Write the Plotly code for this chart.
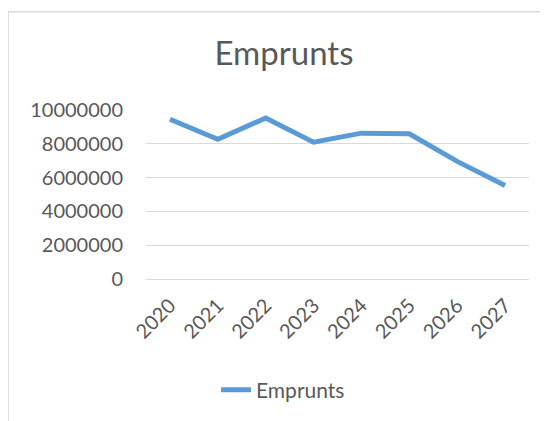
import plotly.graph_objects as go

# Data
years = ["2020", "2021", "2022", "2023", "2024", "2025", "2026", "2027"]
emprunts = [9450000, 8270000, 9530000, 8100000, 8630000, 8590000, 6960000, 5530000]
y_ticks = [0, 2000000, 4000000, 6000000, 8000000, 10000000]

LINE_COLOR = "#5b9bd5"
TEXT_COLOR = "#595959"
GRID_COLOR = "#d9d9d9"
FONT = "Lato, 'Open Sans', sans-serif"

# the page body adds an 8px offset, so the figure is 8px smaller each side
W, H = 540, 413

fig = go.Figure()

fig.add_trace(go.Scatter(
    x=years,
    y=emprunts,
    mode="lines",
    name="Emprunts",
    line=dict(color=LINE_COLOR, width=5),
))

# Chart-area border (outer frame, like the Excel chart box)
fig.add_shape(
    type="rect", xref="paper", yref="paper",
    x0=-0.3603, x1=1.07, y0=-0.9, y1=1.582,
    line=dict(color=GRID_COLOR, width=1.5),
    fillcolor="rgba(0,0,0,0)", layer="below",
)

fig.update_layout(
    width=W,
    height=H,
    margin=dict(l=138, r=19, t=102, b=141),
    paper_bgcolor="white",
    plot_bgcolor="white",
    font=dict(family=FONT, color=TEXT_COLOR, size=20),
    title=dict(
        text="Emprunts",
        x=276 / W, xanchor="center",
        y=1 - 45 / H, yanchor="middle",
        font=dict(size=33, color=TEXT_COLOR, family=FONT),
    ),
    xaxis=dict(
        type="category",
        range=[-0.5, len(years) - 0.5],
        tickangle=-45,
        showgrid=False,
        showline=False,
        ticks="",
        ticklabelstandoff=10,
        tickfont=dict(size=20, color=TEXT_COLOR),
    ),
    yaxis=dict(
        range=[0, 10000000],
        tickvals=y_ticks,
        ticktext=[str(v) for v in y_ticks],
        showgrid=True,
        gridcolor=GRID_COLOR,
        gridwidth=1.3,
        zeroline=True,
        zerolinecolor=GRID_COLOR,
        zerolinewidth=1.3,
        showline=False,
        ticks="",
        ticklabelstandoff=22,
        tickfont=dict(size=20, color=TEXT_COLOR),
    ),
    showlegend=True,
    legend=dict(
        orientation="h",
        x=(283 - 146) / 383, xanchor="center",
        y=-(390 - 280) / 170, yanchor="middle",
        font=dict(size=21, color=TEXT_COLOR),
        itemwidth=30,
    ),
)

fig.write_html("out.html")
